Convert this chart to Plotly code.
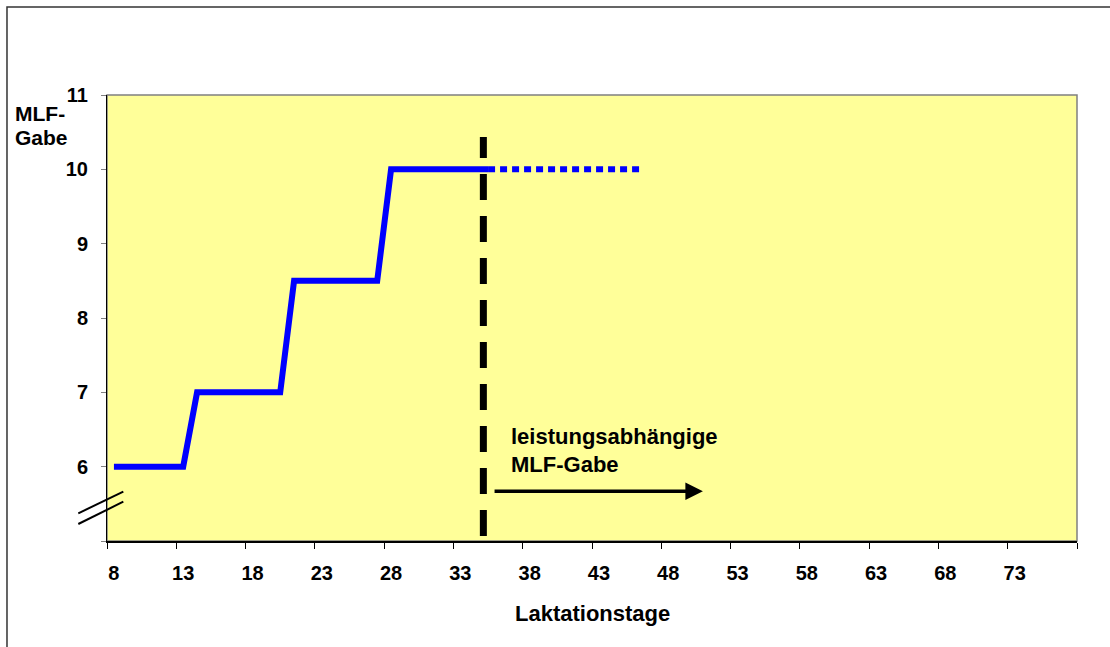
import plotly.graph_objects as go

# Lactation days shown on the category axis (one category per day)
days = list(range(8, 78))
tick_days = list(range(8, 74, 5))
tick_labels = [str(d) for d in tick_days]

# Fixed MLF ration during early lactation (stepwise increase)
fixed_days = list(range(8, 36))
fixed_mlf = [6] * 6 + [7] * 7 + [8.5] * 7 + [10] * 8

# Continuation after the switch to performance-based feeding
perf_days = list(range(35, 47))
perf_mlf = [10] * 12

# Day at which feeding changes over, and the arrow span after it
switch_day = 34.66
arrow_from, arrow_to, arrow_level = 35.36, 50.5, 5.67

y_ticks = [5, 6, 7, 8, 9, 10, 11]
y_labels = ["", "6", "7", "8", "9", "10", "11"]

FONT = "Liberation Sans, Arial, sans-serif"
BLUE = "#0000FF"

fig = go.Figure()

fig.add_trace(go.Scatter(
    x=fixed_days, y=fixed_mlf, mode="lines",
    line=dict(color=BLUE, width=6), hoverinfo="skip", showlegend=False,
))
fig.add_trace(go.Scatter(
    x=perf_days, y=perf_mlf, mode="lines",
    line=dict(color=BLUE, width=6, dash="7px,5px"), hoverinfo="skip", showlegend=False,
))

x_lo, x_hi = days[0] - 0.5, days[-1] + 0.5
boundaries = [x_lo + 5 * k for k in range(15)]

fig.update_layout(
    width=1110, height=647, autosize=False,
    margin=dict(l=107, r=33, t=95, b=106),
    paper_bgcolor="white", plot_bgcolor="#FFFF99",
    font=dict(family=FONT, size=20, color="black", weight="bold"),
    xaxis=dict(
        range=[x_lo, x_hi], tickmode="array", tickvals=tick_days, ticktext=tick_labels,
        ticks="", showgrid=False, zeroline=False, showline=True, linecolor="black", linewidth=1.5,
        ticklabelstandoff=13,
        tickfont=dict(family=FONT, size=20, color="black", weight="bold"),
        minor=dict(tickmode="array", tickvals=boundaries, ticks="outside", ticklen=6,
                   tickcolor="black", tickwidth=1, showgrid=False),
    ),
    yaxis=dict(
        range=[5, 11], tickmode="array", tickvals=y_ticks, ticktext=y_labels,
        ticks="outside", ticklen=5, tickcolor="#808080", tickwidth=1,
        showgrid=False, zeroline=False, showline=True, linecolor="black", linewidth=1,
        ticklabelstandoff=9,
        tickfont=dict(family=FONT, size=20, color="black", weight="bold"),
    ),
)

shapes = []
# plot area frame (top/right edges)
shapes.append(dict(type="rect", xref="paper", yref="paper", x0=0, x1=1, y0=0, y1=1,
                   line=dict(color="#808080", width=1.5), layer="below"))
# outer chart frame
shapes.append(dict(type="rect", xref="paper", yref="paper", x0=-0.1031, x1=1.3, y0=-0.5, y1=1.1973,
                   line=dict(color="#333333", width=1.5)))
# changeover marker
shapes.append(dict(type="line", xref="x", yref="y", x0=switch_day, x1=switch_day, y0=5.067, y1=10.435,
                   line=dict(color="black", width=7, dash="26px,16px")))
# axis break marks
for y0, y1 in [(0.0621, 0.1105), (0.0381, 0.0881)]:
    shapes.append(dict(type="line", xref="paper", yref="paper", x0=-0.0296, x1=0.0168, y0=y0, y1=y1,
                       line=dict(color="black", width=2)))
fig.update_layout(shapes=shapes)

bold = dict(family=FONT, size=21, color="black", weight="bold")
big = dict(family=FONT, size=22, color="black", weight="bold")
annotations = [
    dict(x=arrow_to, y=arrow_level, ax=arrow_from, ay=arrow_level, xref="x", yref="y",
         axref="x", ayref="y", text="", showarrow=True, arrowhead=2, arrowsize=1,
         arrowwidth=3.5, arrowcolor="black"),
    dict(x=0.4144, y=0.2354, xref="paper", yref="paper", text="leistungsabhängige",
         showarrow=False, xanchor="left", yanchor="middle", font=big),
    dict(x=0.4144, y=0.1726, xref="paper", yref="paper", text="MLF-Gabe",
         showarrow=False, xanchor="left", yanchor="middle", font=big),
    dict(x=-0.0969, y=(541 - 113) / 446, xref="paper", yref="paper", text="MLF-",
         showarrow=False, xanchor="left", yanchor="middle", font=bold),
    dict(x=-0.0969, y=(541 - 137.5) / 446, xref="paper", yref="paper", text="Gabe",
         showarrow=False, xanchor="left", yanchor="middle", font=bold),
    dict(x=0.5, y=(541 - 613) / 446, xref="paper", yref="paper", text="Laktationstage",
         showarrow=False, xanchor="center", yanchor="middle", font=big),
]
fig.update_layout(annotations=annotations)

fig.write_html("out.html")
